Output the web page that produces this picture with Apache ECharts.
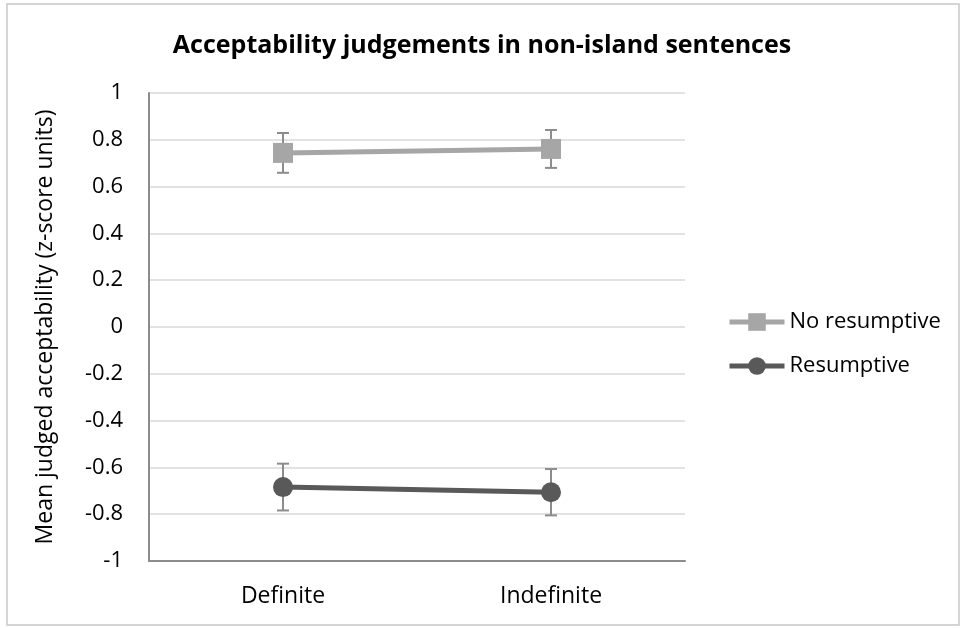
<!DOCTYPE html>
<html>
<head>
<meta charset="utf-8">
<script src="https://cdn.jsdelivr.net/npm/echarts@6/dist/echarts.min.js"></script>
<style>
  html, body { margin: 0; padding: 0; background: #fff; }
  #chart { width: 964px; height: 628px; }
</style>
</head>
<body>
<div id="chart"></div>
<script>
// data
var categories = ["Definite", "Indefinite"];
var noResumptive = [0.744, 0.761];
var noResumptiveErr = [0.085, 0.081];
var resumptive = [-0.684, -0.706];
var resumptiveErr = [0.100, 0.099];
var yTicks = [-1, 1, 0.2];

var FONT = "Open Sans";

function errorSeries(name, values, errs){
	var data = [];
	for(var i=0; i<values.length; i++){
		data.push([i, values[i] - errs[i], values[i] + errs[i]]);
	}
	return {
		name: name + " err",
		type: 'custom',
		z: 1,
		silent: true,
		data: data,
		renderItem: function(params, api){
			var lo = api.coord([api.value(0), api.value(1)]);
			var hi = api.coord([api.value(0), api.value(2)]);
			var half = 6;
			var style = { stroke: '#8c8c8c', lineWidth: 2 };
			return {
				type: 'group',
				children: [
					{ type: 'line', shape: { x1: lo[0], y1: lo[1], x2: hi[0], y2: hi[1] }, style: style },
					{ type: 'line', shape: { x1: lo[0]-half, y1: lo[1], x2: lo[0]+half, y2: lo[1] }, style: style },
					{ type: 'line', shape: { x1: hi[0]-half, y1: hi[1], x2: hi[0]+half, y2: hi[1] }, style: style }
				]
			};
		}
	};
}

var myChart = echarts.init(document.getElementById("chart"));
var option = {
	animation: false,
	backgroundColor: '#fff',
	title: {
		text: "Acceptability judgements in non-island sentences",
		left: 'center',
		top: 28,
		textStyle: { fontFamily: FONT, fontSize: 25, fontWeight: 'bold', color: '#000' }
	},
	graphic: [{
		type: 'rect',
		shape: { x: 7, y: 4, width: 952, height: 621 },
		style: { fill: null, stroke: '#c8c8c8', lineWidth: 1.5 },
		silent: true
	}],
	legend: {
		data: ["No resumptive", "Resumptive"],
		orient: 'vertical',
		left: 727,
		top: 311,
		padding: 0,
		itemWidth: 55,
		itemHeight: 22,
		itemGap: 22,
		lineStyle: { width: 5 },
		textStyle: { fontFamily: FONT, fontSize: 22, color: '#000' }
	},
	grid: { left: 149, top: 93, right: 279, bottom: 67 },
	xAxis: {
		type: 'category',
		data: categories,
		boundaryGap: true,
		axisLine: { onZero: false, lineStyle: { color: '#8c8c8c', width: 2 } },
		axisTick: { show: false },
		axisLabel: { fontFamily: FONT, fontSize: 23, color: '#000', margin: 24 }
	},
	yAxis: {
		type: 'value',
		min: yTicks[0],
		max: yTicks[1],
		interval: yTicks[2],
		name: "Mean judged acceptability (z-score units)",
		nameLocation: 'middle',
		nameGap: 92,
		nameTextStyle: { fontFamily: FONT, fontSize: 23, color: '#000' },
		axisLine: { show: true, lineStyle: { color: '#8c8c8c', width: 2 } },
		axisTick: { show: false },
		splitLine: { lineStyle: { color: '#d9d9d9', width: 1.5 } },
		axisLabel: {
			fontFamily: FONT, fontSize: 22, color: '#000', margin: 26,
			formatter: function(v){ return String(Math.round(v*10)/10); }
		}
	},
	series: [
		errorSeries("No resumptive", noResumptive, noResumptiveErr),
		errorSeries("Resumptive", resumptive, resumptiveErr),
		{
			name: "No resumptive",
			type: 'line',
			z: 3,
			data: noResumptive,
			symbol: 'rect',
			symbolSize: 20,
			lineStyle: { color: '#a6a6a6', width: 5 },
			itemStyle: { color: '#a6a6a6' }
		},
		{
			name: "Resumptive",
			type: 'line',
			z: 3,
			data: resumptive,
			symbol: 'circle',
			symbolSize: 20,
			lineStyle: { color: '#595959', width: 5 },
			itemStyle: { color: '#595959' }
		}
	]
};
myChart.setOption(option);
</script>
</body>
</html>
